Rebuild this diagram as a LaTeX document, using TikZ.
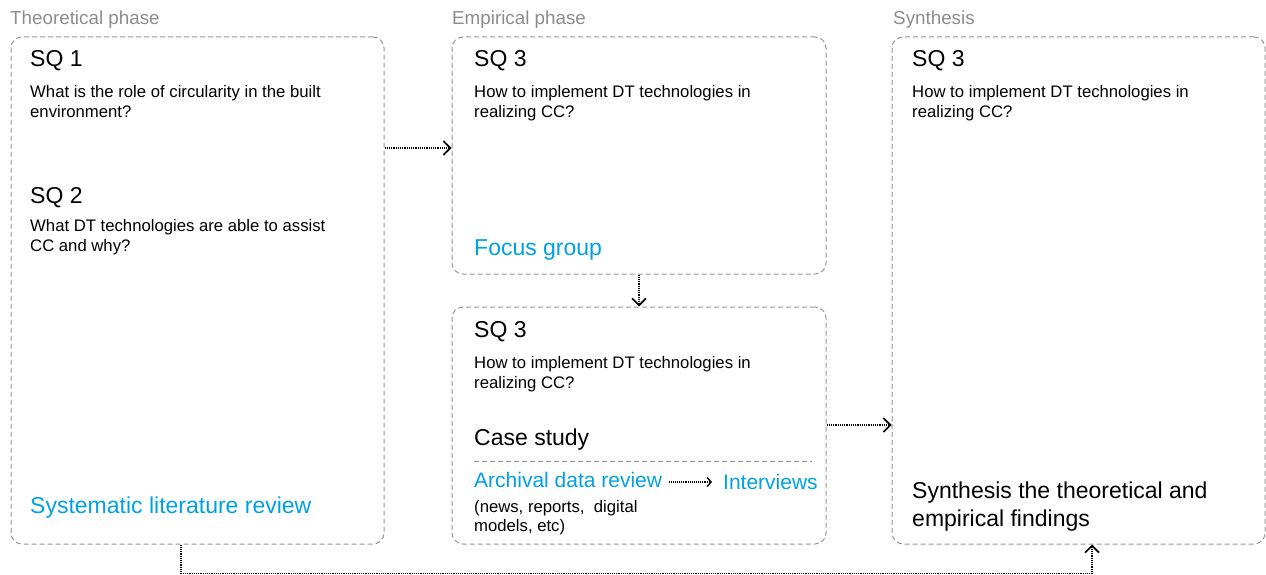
\documentclass[tikz,border=0pt]{standalone}
\usepackage{fontspec}
\setmainfont{Liberation Sans}
\usetikzlibrary{arrows.meta}
\definecolor{framegray}{RGB}{150,150,150}
\definecolor{labelgray}{RGB}{140,140,140}
\definecolor{methodblue}{RGB}{0,161,228}
\newcommand{\fsz}[1]{\fontsize{#1}{#1}\selectfont}

\begin{document}
\begin{tikzpicture}[x=1pt,y=-1pt,
  phasebox/.style={draw=framegray, line width=1pt, dash pattern=on 5pt off 3pt,
    rounded corners=11pt, inner sep=0pt},
  phaselabel/.style={anchor=base west, inner sep=0pt, text=labelgray, font=\fsz{18.8}},
  sqtitle/.style={anchor=base west, inner sep=0pt, font=\fsz{23}},
  question/.style={anchor=base west, inner sep=0pt, font=\fsz{16.7}},
  method/.style={anchor=base west, inner sep=0pt, text=methodblue, font=\fsz{23}},
  smallmethod/.style={anchor=base west, inner sep=0pt, text=methodblue, font=\fsz{21}},
  conn/.style={line width=1.4pt, dash pattern=on 1.2pt off 1pt,
    -{Straight Barb[length=7pt,width=14pt,line width=1.6pt]}},
  smallconn/.style={line width=1.2pt, dash pattern=on 1pt off 0.9pt,
    -{Straight Barb[length=4pt,width=9pt,line width=1.3pt]}}
]
\useasboundingbox (0,0) rectangle (1266,575);

% phase frames
\node[phasebox, minimum width=373pt, minimum height=507pt] (theory) at (197.5,290.5) {};
\node[phasebox, minimum width=374pt, minimum height=237pt] (focus) at (639,155.5) {};
\node[phasebox, minimum width=374pt, minimum height=237pt] (case) at (639,425.5) {};
\node[phasebox, minimum width=373pt, minimum height=507pt] (synth) at (1078.5,290.5) {};

% phase labels
\node[phaselabel] (lbltheory) at (10,25) {Theoretical phase};
\node[phaselabel] (lblempir) at (452,25) {Empirical phase};
\node[phaselabel] (lblsynth) at (893,25) {Synthesis};

% theoretical phase
\node[sqtitle] (sq1) at (30,67) {SQ 1};
\node[question] (q1a) at (30,98) {What is the role of circularity in the built};
\node[question] (q1b) at (30,118) {environment?};
\node[sqtitle] (sq2) at (30,203) {SQ 2};
\node[question] (q2a) at (30,231) {What DT technologies are able to assist};
\node[question] (q2b) at (30,251) {CC and why?};
\node[method] (slr) at (30,513) {Systematic literature review};

% empirical phase: focus group
\node[sqtitle] (sq3a) at (474,67) {SQ 3};
\node[question] (q3a1) at (474,98) {How to implement DT technologies in};
\node[question] (q3a2) at (474,118) {realizing CC?};
\node[method] (fg) at (474,255) {Focus group};

% empirical phase: case study
\node[sqtitle] (sq3b) at (474,337) {SQ 3};
\node[question] (q3b1) at (474,368) {How to implement DT technologies in};
\node[question] (q3b2) at (474,388) {realizing CC?};
\node[sqtitle] (cs) at (474,445) {Case study};
\draw[draw=framegray, line width=1pt, dash pattern=on 5pt off 3pt] (474,461) -- (812,461);
\node[smallmethod] (archival) at (474,487) {Archival data review};
\node[smallmethod] (interviews) at (723,489) {Interviews};
\node[question] (src1) at (474,512) {(news, reports,\ \ digital};
\node[question] (src2) at (474,531) {models, etc)};

% synthesis
\node[sqtitle] (sq3c) at (912,67) {SQ 3};
\node[question] (q3c1) at (912,98) {How to implement DT technologies in};
\node[question] (q3c2) at (912,118) {realizing CC?};
\node[sqtitle] (syn1) at (912,498) {Synthesis the theoretical and};
\node[sqtitle] (syn2) at (912,526) {empirical findings};

% connectors
\coordinate (rowa) at (0,148);
\coordinate (rowb) at (0,425);
\coordinate (low) at (0,573.5);
\coordinate (colL) at (181,0);
\coordinate (colR) at (1092,0);
\coordinate (arrw) at (0,482);

\draw[conn] (theory.east |- rowa) -- (focus.west |- rowa);
\draw[conn] (focus.south) -- (case.north);
\draw[conn] (case.east |- rowb) -- (synth.west |- rowb);
\draw[conn] (theory.south -| colL) -- (colL |- low) -- (colR |- low) -- (synth.south -| colR);
\draw[smallconn] ([xshift=7pt]archival.east |- arrw) -- ([xshift=-11pt]interviews.west |- arrw);
\end{tikzpicture}
\end{document}
